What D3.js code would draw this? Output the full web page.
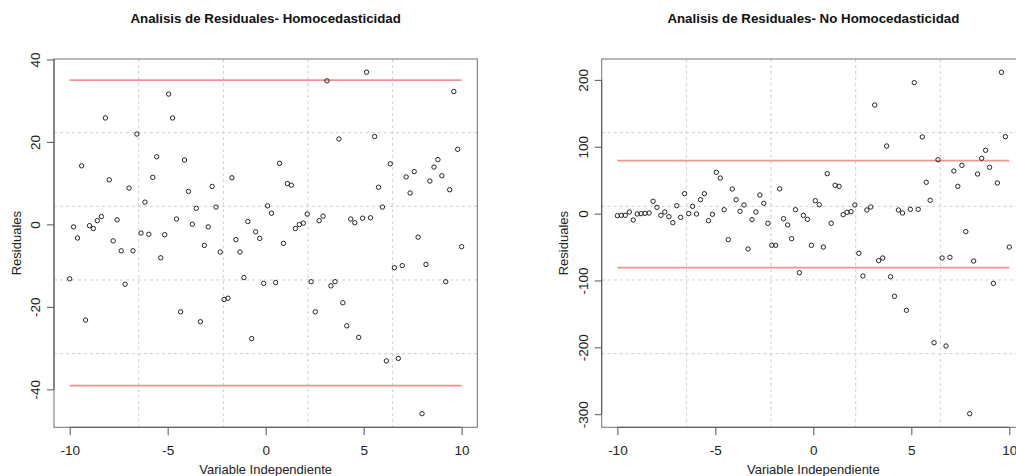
<!DOCTYPE html>
<html>
<head>
<meta charset="utf-8">
<script src="https://cdn.jsdelivr.net/npm/d3@7"></script>
<style>
  html, body { margin: 0; padding: 0; background: #ffffff; }
  svg { display: block; font-family: "Liberation Sans", Arial, Helvetica, sans-serif; }
</style>
</head>
<body>
<svg id="chart" width="1016" height="476"></svg>
<script>
// ---------------- data ----------------
const xValues = [
  -10.00, -9.80, -9.60, -9.39, -9.19, -8.99, -8.79, -8.59, -8.38, -8.18,
  -7.98, -7.78, -7.58, -7.37, -7.17, -6.97, -6.77, -6.57, -6.36, -6.16,
  -5.96, -5.76, -5.56, -5.35, -5.15, -4.95, -4.75, -4.55, -4.34, -4.14,
  -3.94, -3.74, -3.54, -3.33, -3.13, -2.93, -2.73, -2.53, -2.32, -2.12,
  -1.92, -1.72, -1.52, -1.31, -1.11, -0.91, -0.71, -0.51, -0.30, -0.10,
   0.10,  0.30,  0.51,  0.71,  0.91,  1.11,  1.31,  1.52,  1.72,  1.92,
   2.12,  2.32,  2.53,  2.73,  2.93,  3.13,  3.33,  3.54,  3.74,  3.94,
   4.14,  4.34,  4.55,  4.75,  4.95,  5.15,  5.35,  5.56,  5.76,  5.96,
   6.16,  6.36,  6.57,  6.77,  6.97,  7.17,  7.37,  7.58,  7.78,  7.98,
   8.18,  8.38,  8.59,  8.79,  8.99,  9.19,  9.39,  9.60,  9.80, 10.00
];

const residHomo = [
  -13.2, -0.6, -3.3, 14.2, -23.2, -0.3, -1.0, 0.9, 1.9, 25.8,
   10.8, -4.0, 1.1, -6.4, -14.5, 8.8, -6.4, 21.9, -2.1, 5.4,
   -2.4, 11.4, 16.4, -8.1, -2.5, 31.6, 25.8, 1.3, -21.2, 15.6,
    8.0, 0.05, 3.9, -23.6, -5.1, -0.6, 9.2, 4.2, -6.7, -18.2,
  -17.9, 11.3, -3.7, -6.7, -12.9, 0.7, -27.7, -1.8, -3.4, -14.3,
    4.5, 2.7, -14.1, 14.8, -4.6, 9.9, 9.5, -1.0, -0.05, 0.3,
    2.5, -13.9, -21.2, 0.9, 2.0, 34.8, -14.9, -13.9, 20.7, -19.0,
  -24.6, 1.3, 0.4, -27.4, 1.5, 36.9, 1.6, 21.3, 9.0, 4.2,
  -33.1, 14.7, -10.5, -32.5, -10.0, 11.5, 7.6, 12.8, -3.1, -45.9,
   -9.7, 10.5, 13.9, 15.7, 11.8, -13.9, 8.4, 32.2, 18.2, -5.4
];

const residHetero = [
   -3.1, -2.6, -2.6, 2.4, -9.6, -0.6, -0.1, 0.4, 0.9, 18.4,
    9.4, -2.6, 2.4, -4.6, -13.6, 11.8, -5.6, 29.8, 0.0, 10.9,
   -0.6, 20.8, 29.8, -10.6, -1.1, 61.8, 53.2, 5.8, -39.0, 36.8,
   20.8, 3.4, 12.9, -53.0, -9.1, 2.4, 27.8, 15.4, -14.5, -47.4,
  -47.4, 37.0, -7.6, -17.0, -37.5, 5.8, -88.4, -2.6, -8.6, -47.4,
   19.3, 13.3, -50.0, 59.7, -14.5, 42.3, 40.8, -1.6, 1.9, 2.9,
   12.9, -59.4, -93.3, 5.4, 9.9, 162.4, -70.4, -66.4, 101.1, -94.4,
 -123.7, 5.4, 0.9, -144.6, 6.4, 195.8, 6.4, 114.6, 46.8, 19.9,
 -193.1, 80.6, -66.4, -198.0, -65.4, 63.7, 40.8, 72.2, -27.0, -299.3,
  -70.9, 59.2, 82.7, 94.7, 69.2, -104.3, 45.8, 211.3, 115.1, -50.0
];

const xTicks = [-10, -5, 0, 5, 10];
const yTicksHomo = [-40, -20, 0, 20, 40];
const yTicksHetero = [-300, -200, -100, 0, 100, 200];

const limitsHomo = [35.0, -39.1];
const limitsHetero = [79.1, -80.9];

const titles = [
  "Analisis de Residuales- Homocedasticidad",
  "Analisis de Residuales- No Homocedasticidad"
];
const xLabel = "Variable Independiente";
const yLabel = "Residuales";

// ---------------- drawing ----------------
const svg = d3.select("#chart");
svg.append("rect").attr("width", 1016).attr("height", 476).attr("fill", "#ffffff");

const fmt = d => String(d);   // plain hyphen-minus, as in the reference

const panels = [
  { left: 54, right: 477.3, yDomain: [-49.2, 40.1], resid: residHomo, yTicks: yTicksHomo, limits: limitsHomo, title: titles[0] },
  { left: 601.7, right: 1025, yDomain: [-319.6, 231.2], resid: residHetero, yTicks: yTicksHetero, limits: limitsHetero, title: titles[1] }
];
const plotTop = 59, plotBottom = 427.3;

panels.forEach(p => {
  const x = d3.scaleLinear().domain([-10.8, 10.8]).range([p.left, p.right]);
  const y = d3.scaleLinear().domain(p.yDomain).range([plotBottom, plotTop]);
  const g = svg.append("g");

  // grid (5 x 5 cells, dotted light gray)
  const gx = d3.range(1, 5).map(k => -10.8 + k * 21.6 / 5);
  const gy = d3.range(1, 5).map(k => p.yDomain[0] + k * (p.yDomain[1] - p.yDomain[0]) / 5);
  g.selectAll(".vgrid").data(gx).join("line")
    .attr("x1", d => x(d)).attr("x2", d => x(d))
    .attr("y1", plotTop).attr("y2", plotBottom)
    .attr("stroke", "#cfcfcf").attr("stroke-width", 1).attr("stroke-dasharray", "3,3");
  g.selectAll(".hgrid").data(gy).join("line")
    .attr("x1", p.left).attr("x2", p.right)
    .attr("y1", d => y(d)).attr("y2", d => y(d))
    .attr("stroke", "#cfcfcf").attr("stroke-width", 1).attr("stroke-dasharray", "3,3");

  // limit lines
  g.selectAll(".lim").data(p.limits).join("line")
    .attr("x1", x(-10)).attr("x2", x(10))
    .attr("y1", d => y(d)).attr("y2", d => y(d))
    .attr("stroke", "#f39494").attr("stroke-width", 1.7);

  // points
  g.selectAll(".pt").data(p.resid).join("circle")
    .attr("cx", (d, i) => x(xValues[i]))
    .attr("cy", d => y(d))
    .attr("r", 2.2)
    .attr("fill", "none")
    .attr("stroke", "#1a1a1a")
    .attr("stroke-width", 0.95);

  // box
  g.append("rect")
    .attr("x", p.left).attr("y", plotTop)
    .attr("width", p.right - p.left).attr("height", plotBottom - plotTop)
    .attr("fill", "none").attr("stroke", "#707070").attr("stroke-width", 1);

  // x axis
  const xa = g.append("g").attr("transform", `translate(0,${plotBottom})`)
    .call(d3.axisBottom(x).tickValues(xTicks).tickSize(8).tickPadding(10).tickFormat(fmt));
  xa.select(".domain").remove();
  xa.append("line").attr("x1", x(-10)).attr("x2", x(10)).attr("y1", 0).attr("y2", 0)
    .attr("stroke", "#555").attr("stroke-width", 1);
  xa.selectAll(".tick line").attr("stroke", "#555");
  xa.selectAll(".tick text")
    .attr("font-size", 13.5).attr("fill", "#222")
    .attr("dy", null).attr("y", 27.7);

  // y axis
  const ya = g.append("g").attr("transform", `translate(${p.left},0)`)
    .call(d3.axisLeft(y).tickValues(p.yTicks).tickSize(7).tickFormat(fmt));
  ya.select(".domain").remove();
  ya.append("line").attr("x1", 0).attr("x2", 0)
    .attr("y1", y(p.yTicks[0])).attr("y2", y(p.yTicks[p.yTicks.length - 1]))
    .attr("stroke", "#555").attr("stroke-width", 1);
  ya.selectAll(".tick line").attr("stroke", "#555");
  ya.selectAll(".tick text")
    .attr("font-size", 13.5).attr("fill", "#222")
    .attr("transform", "rotate(-90)")
    .attr("text-anchor", "middle")
    .attr("x", 0).attr("dy", null).attr("y", -14);

  const cx = (p.left + p.right) / 2;
  // title
  svg.append("text").attr("x", cx).attr("y", 23.3)
    .attr("text-anchor", "middle").attr("font-size", 13.3).attr("font-weight", "bold")
    .attr("fill", "#111").text(p.title);
  // x label
  svg.append("text").attr("x", cx).attr("y", 474)
    .attr("text-anchor", "middle").attr("font-size", 13).attr("fill", "#222").text(xLabel);
  // y label
  svg.append("text")
    .attr("transform", `translate(${p.left - 33.5},${(plotTop + plotBottom) / 2}) rotate(-90)`)
    .attr("text-anchor", "middle").attr("font-size", 13).attr("fill", "#222").text(yLabel);
});
</script>
</body>
</html>
